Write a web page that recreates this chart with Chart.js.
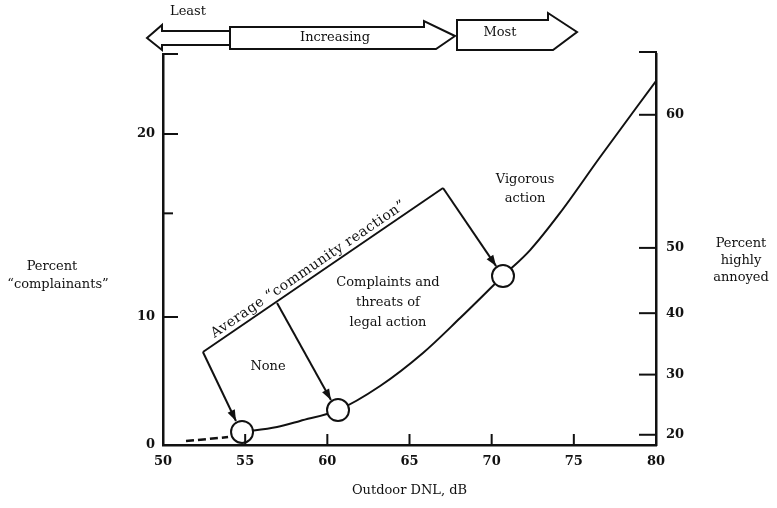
<!DOCTYPE html>
<html><head><meta charset="utf-8">
<script src="https://cdn.jsdelivr.net/npm/chart.js@4/dist/chart.umd.min.js"></script>
<style>html,body{margin:0;padding:0;background:#fff;}#wrap{width:777px;height:508px;}</style>
</head><body><div id="wrap"><canvas id="c" width="777" height="508"></canvas></div>
<script>
// ---- data ----
const xTickValues = [50, 55, 60, 65, 70, 75, 80];           // Outdoor DNL, dB
const curveDnl  = [54.81, 56.94, 58.34, 60.65, 63.21, 65.82, 68.08, 70.69, 72.34, 74.16, 76.6, 80.0];
const curveVal  = [1.02, 1.41, 1.88, 2.73, 4.61, 7.19, 9.92, 13.2, 15.23, 18.13, 22.5, 28.44];
const dashDnl   = [51.4, 53.96];
const dashVal   = [0.31, 0.62];
const markerDnl = [54.81, 60.65, 70.69];
const markerVal = [1.02, 2.73, 13.2];
const leftTickLabels  = ['0', '10', '20'];
const leftTickAt      = [0, 10, 24.3];
const leftMinorAt     = [18.1];
const rightTickLabels = ['20', '30', '40', '50', '60'];
const rightTickAt     = [0.8, 5.5, 10.3, 15.4, 25.8];
const yMax = 30.55;

// annotation anchors, in (dB, scale units)
const reactionFrom = [52.43, 7.27];
const reactionTo   = [67.04, 20.08];
const branchFrom   = [56.94, 11.09];
const arrowEnds    = [[54.44, 1.875], [60.22, 3.52], [70.27, 13.98]];

const FONT = '"DejaVu Serif", "Liberation Serif", serif';
const INK = '#111';

const toPts = (xs, ys) => xs.map((v, i) => ({x: v, y: ys[i]}));

function arrowHead(ctx, x0, y0, x1, y1, len, wid) {
  const a = Math.atan2(y1 - y0, x1 - x0);
  ctx.beginPath();
  ctx.moveTo(x1, y1);
  ctx.lineTo(x1 - len * Math.cos(a) + wid / 2 * Math.sin(a), y1 - len * Math.sin(a) - wid / 2 * Math.cos(a));
  ctx.lineTo(x1 - len * Math.cos(a) - wid / 2 * Math.sin(a), y1 - len * Math.sin(a) + wid / 2 * Math.cos(a));
  ctx.closePath();
  ctx.fill();
}

const extras = {
  id: 'extras',
  afterDraw(chart) {
    const {ctx, chartArea: a, scales: {x, y, y2}} = chart;
    const P = (p) => [x.getPixelForValue(p[0]), y.getPixelForValue(p[1])];
    ctx.save();
    ctx.strokeStyle = INK; ctx.fillStyle = INK; ctx.lineCap = 'butt';
    const line = (x0, y0, x1, y1) => { ctx.beginPath(); ctx.moveTo(x0, y0); ctx.lineTo(x1, y1); ctx.stroke(); };

    // inward tick marks
    ctx.lineWidth = 2;
    x.ticks.forEach(t => {
      if (t.value === 50 || t.value === 80) return;
      const px = x.getPixelForValue(t.value);
      line(px, a.bottom, px, a.bottom - 11);
    });
    y.ticks.forEach(t => {
      if (t.value === 0) return;
      const py = y.getPixelForValue(t.value);
      line(a.left, py, a.left + 15, py);
    });
    leftMinorAt.forEach(v => { const py = y.getPixelForValue(v); line(a.left, py, a.left + 10, py); });
    line(a.left - 1, a.top, a.left + 15, a.top);
    y2.ticks.forEach(t => {
      const py = y2.getPixelForValue(t.value);
      line(a.right, py, a.right - 17, py);
    });
    line(a.right + 1, a.top - 2, a.right - 17, a.top - 2);
    line(a.right, a.top - 2, a.right, a.top);

    // community reaction bracket and arrows
    ctx.lineWidth = 2;
    const c = P(reactionFrom), d = P(reactionTo), b = P(branchFrom);
    line(c[0], c[1], d[0], d[1]);
    const starts = [c, b, d];
    arrowEnds.forEach((e, i) => {
      const s = starts[i], q = P(e);
      line(s[0], s[1], q[0], q[1]);
      arrowHead(ctx, s[0], s[1], q[0], q[1], 11, 8);
    });

    // rotated label along the bracket
    ctx.save();
    const ang = Math.atan2(d[1] - c[1], d[0] - c[0]);
    const mx = c[0] + (d[0] - c[0]) * 0.46, my = c[1] + (d[1] - c[1]) * 0.46;
    ctx.translate(mx, my);
    ctx.rotate(ang);
    ctx.font = '14px ' + FONT;
    ctx.letterSpacing = '0.5px';
    ctx.textAlign = 'center'; ctx.textBaseline = 'alphabetic';
    ctx.fillText('Average \u201ccommunity reaction\u201d', 0, -5);
    ctx.restore();

    // region labels
    ctx.font = '13px ' + FONT;
    ctx.textAlign = 'center'; ctx.textBaseline = 'middle';
    const t1 = P([56.39, 6.09]);
    ctx.fillText('None', t1[0], t1[1]);
    const t2 = P([63.69, 12.66]);
    ctx.fillText('Complaints and', t2[0], t2[1]);
    ctx.fillText('threats of', t2[0], t2[1] + 20);
    ctx.fillText('legal action', t2[0], t2[1] + 40);
    const t3 = P([72.03, 20.7]);
    ctx.fillText('Vigorous', t3[0], t3[1]);
    ctx.fillText('action', t3[0], t3[1] + 19);

    // axis titles
    ctx.fillText('Percent', 52, 267);
    ctx.fillText('\u201ccomplainants\u201d', 58, 285);
    ctx.fillText('Percent', 741, 244);
    ctx.fillText('highly', 741, 261);
    ctx.fillText('annoyed', 741, 278);
    ctx.fillText('Outdoor DNL, dB', (a.left + a.right) / 2, 491);

    // top scale of reaction: Least / Increasing / Most
    ctx.lineWidth = 2;
    ctx.lineJoin = 'miter';
    const poly = (pts) => { ctx.beginPath(); ctx.moveTo(pts[0][0], pts[0][1]); for (let i = 1; i < pts.length; i++) ctx.lineTo(pts[i][0], pts[i][1]); ctx.closePath(); ctx.stroke(); };
    poly([[230, 31], [162, 31], [162, 25], [147, 38], [162, 50], [162, 45], [230, 45]]);
    poly([[230, 27], [424, 27], [424, 21], [455, 36], [436, 49], [230, 49]]);
    poly([[457, 20], [548, 20], [548, 13], [577, 32], [553, 50], [457, 50]]);
    ctx.fillText('Least', 188, 12);
    ctx.fillText('Increasing', 335, 38);
    ctx.fillText('Most', 500, 33);
    ctx.restore();
  }
};

const tickFont = { family: FONT, size: 13, weight: 'bold' };

new Chart(document.getElementById('c'), {
  data: {
    datasets: [
      { type: 'scatter', data: toPts(markerDnl, markerVal), pointRadius: 11, pointHoverRadius: 11,
        pointBackgroundColor: '#fff', pointBorderColor: INK, pointBorderWidth: 2, order: 0, showLine: false },
      { type: 'line', data: toPts(curveDnl, curveVal), borderColor: INK, borderWidth: 2,
        cubicInterpolationMode: 'monotone', pointRadius: 0, fill: false, order: 1 },
      { type: 'line', data: toPts(dashDnl, dashVal), borderColor: INK, borderWidth: 2.5, borderDash: [8, 4],
        pointRadius: 0, fill: false, order: 1 }
    ]
  },
  options: {
    responsive: false, animation: false, devicePixelRatio: 1,
    layout: { padding: { top: 54, left: 0, right: 0, bottom: 0 } },
    plugins: { legend: { display: false }, tooltip: { enabled: false } },
    scales: {
      x: {
        type: 'linear', position: 'bottom', min: 50, max: 80,
        afterBuildTicks: s => { s.ticks = xTickValues.map(v => ({ value: v })); },
        afterFit: s => { s.height = 63; },
        grid: { display: false, drawTicks: false },
        border: { display: true, color: INK, width: 2.5 },
        ticks: { autoSkip: false, maxRotation: 0, padding: 9, color: INK, font: tickFont }
      },
      y: {
        type: 'linear', position: 'left', min: 0, max: yMax,
        afterBuildTicks: s => { s.ticks = leftTickAt.map(v => ({ value: v })); },
        afterFit: s => { s.width = 163; },
        grid: { display: false, drawTicks: false },
        border: { display: true, color: INK, width: 2.5 },
        ticks: { autoSkip: false, padding: 8, color: INK, font: tickFont,
          callback: (v, i) => leftTickLabels[i] }
      },
      y2: {
        type: 'linear', position: 'right', min: 0, max: yMax,
        afterBuildTicks: s => { s.ticks = rightTickAt.map(v => ({ value: v })); },
        afterFit: s => { s.width = 121; },
        grid: { display: false, drawTicks: false },
        border: { display: true, color: INK, width: 2.5 },
        ticks: { autoSkip: false, padding: 10, color: INK, font: tickFont,
          callback: (v, i) => rightTickLabels[i] }
      }
    }
  },
  plugins: [extras]
});
</script>
</body></html>
